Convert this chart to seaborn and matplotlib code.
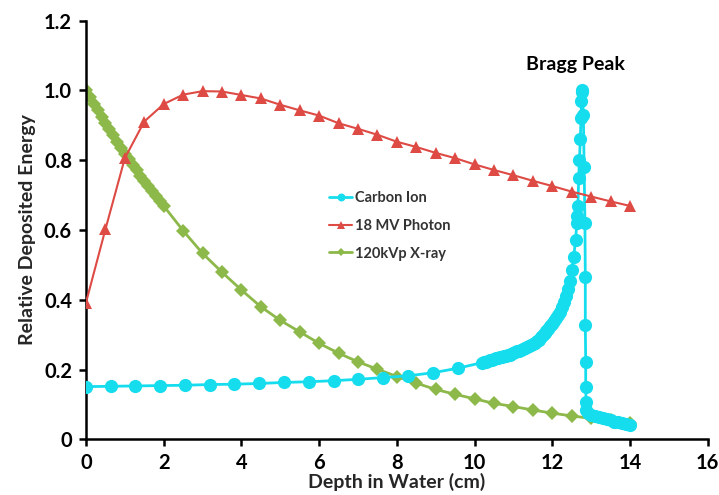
import numpy as np
import pandas as pd
import matplotlib
matplotlib.use("Agg")
import matplotlib.pyplot as plt
import seaborn as sns

# ---------------- data ----------------
photon_x = [0, 0.5, 1.0, 1.5, 2.0, 2.5, 3.0, 3.5, 4.0, 4.5, 5.0, 5.5, 6.0, 6.5, 7.0,
            7.5, 8.0, 8.5, 9.0, 9.5, 10.0, 10.5, 11.0, 11.5, 12.0, 12.5, 13.0, 13.5, 14.0]
photon_y = [0.392, 0.602, 0.806, 0.911, 0.961, 0.988, 0.998, 0.997, 0.987, 0.977, 0.959,
            0.943, 0.928, 0.906, 0.890, 0.873, 0.853, 0.838, 0.821, 0.806, 0.788, 0.772,
            0.757, 0.741, 0.726, 0.710, 0.696, 0.682, 0.669]

xray_x = [0.0, 0.1, 0.2, 0.3, 0.4, 0.5, 0.6, 0.7, 0.8, 0.9, 1.0, 1.1, 1.2, 1.3, 1.4,
          1.5, 1.6, 1.7, 1.8, 1.9, 2.0, 2.5, 3.0, 3.5, 4.0, 4.5, 5.0, 5.5, 6.0, 6.5,
          7.0, 7.5, 8.0, 8.5, 9.0, 9.5, 10.0, 10.5, 11.0, 11.5, 12.0, 12.5, 13.0,
          13.5, 14.0]
xray_y = [1.000, 0.981, 0.962, 0.943, 0.925, 0.907, 0.889, 0.871, 0.853, 0.836, 0.819,
          0.803, 0.787, 0.771, 0.756, 0.741, 0.726, 0.711, 0.697, 0.683, 0.669, 0.598,
          0.533, 0.479, 0.428, 0.380, 0.341, 0.308, 0.275, 0.247, 0.222, 0.201, 0.180,
          0.161, 0.143, 0.129, 0.116, 0.103, 0.094, 0.084, 0.075, 0.067, 0.060, 0.054,
          0.048]

carbon_x = [0.0, 0.64, 1.27, 1.91, 2.55, 3.18, 3.82, 4.46, 5.09, 5.73, 6.37, 7.0,
            7.65, 8.29, 8.94, 9.58,
            10.20, 10.25, 10.30, 10.35, 10.40, 10.45, 10.50, 10.55, 10.60, 10.65,
            10.70, 10.75, 10.80, 10.85, 10.90, 10.95, 11.00, 11.05, 11.10, 11.15,
            11.20, 11.25, 11.30, 11.35, 11.40, 11.45, 11.50, 11.55, 11.60, 11.65,
            11.70, 11.75, 11.80, 11.85, 11.90, 11.95, 12.00, 12.05, 12.10, 12.15,
            12.20, 12.25, 12.30, 12.35, 12.40, 12.45, 12.50, 12.55,
            12.60, 12.63, 12.64, 12.66, 12.68, 12.70, 12.72, 12.74, 12.75, 12.76, 12.77,
            12.80, 12.82, 12.84, 12.85, 12.85, 12.86, 12.86, 12.87, 12.88,
            12.92, 13.0, 13.1, 13.2, 13.3, 13.4, 13.5, 13.6, 13.7, 13.8, 13.9, 14.0]
carbon_y = [0.151, 0.152, 0.153, 0.154, 0.155, 0.157, 0.158, 0.160, 0.163, 0.165, 0.168,
            0.172, 0.177, 0.182, 0.191, 0.204,
            0.220, 0.222, 0.223, 0.225, 0.227, 0.228, 0.230, 0.232, 0.233, 0.235,
            0.237, 0.238, 0.240, 0.242, 0.243, 0.245, 0.247, 0.249, 0.252, 0.254,
            0.257, 0.259, 0.262, 0.264, 0.267, 0.269, 0.272, 0.276, 0.281, 0.286,
            0.292, 0.298, 0.304, 0.310, 0.317, 0.324, 0.331, 0.339, 0.347, 0.356,
            0.366, 0.380, 0.395, 0.412, 0.432, 0.455, 0.485, 0.524,
            0.570, 0.620, 0.640, 0.670, 0.750, 0.800, 0.860, 0.920, 0.970, 0.995, 1.000,
            0.930, 0.780, 0.620, 0.464, 0.328, 0.223, 0.151, 0.108, 0.084,
            0.075, 0.070, 0.066, 0.063, 0.060, 0.057, 0.054, 0.051, 0.049, 0.046,
            0.044, 0.041]

series_names = ["Carbon Ion", "18 MV Photon", "120kVp X-ray"]
x_ticks = [0, 2, 4, 6, 8, 10, 12, 14, 16]
y_ticks = [0, 0.2, 0.4, 0.6, 0.8, 1.0, 1.2]
y_tick_labels = ["0", "0.2", "0.4", "0.6", "0.8", "1.0", "1.2"]

# ---------------- style ----------------
sns.set_style("white")
plt.rcParams["font.family"] = ["Lato", "DejaVu Sans"]
plt.rcParams["font.weight"] = "bold"

CYAN = "#16DDEE"
RED = "#DE4A44"
GREEN = "#8DB84A"

fig = plt.figure(figsize=(7.19, 4.95), dpi=100)
ax = fig.add_axes([0.1196, 0.1125, 0.8647, 0.8457])

df_c = pd.DataFrame({"x": carbon_x, "y": carbon_y})
df_p = pd.DataFrame({"x": photon_x, "y": photon_y})
df_g = pd.DataFrame({"x": xray_x, "y": xray_y})

sns.lineplot(data=df_c, x="x", y="y", ax=ax, sort=False, estimator=None,
             color=CYAN, lw=2.0, marker="o", markersize=9.5, markeredgewidth=0,
             label=series_names[0], zorder=3)
sns.lineplot(data=df_p, x="x", y="y", ax=ax, sort=False, estimator=None,
             color=RED, lw=1.5, marker="^", markersize=8.5, markeredgewidth=0,
             label=series_names[1], zorder=4)
sns.lineplot(data=df_g, x="x", y="y", ax=ax, sort=False, estimator=None,
             color=GREEN, lw=2.0, marker="D", markersize=7, markeredgewidth=0,
             label=series_names[2], zorder=2)

ax.set_xlim(0, 16)
ax.set_ylim(0, 1.2)
ax.set_xticks(x_ticks)
ax.set_xticklabels([str(t) for t in x_ticks])
ax.set_yticks(y_ticks)
ax.set_yticklabels(y_tick_labels)

for s in ["top", "right"]:
    ax.spines[s].set_visible(False)
for s in ["left", "bottom"]:
    ax.spines[s].set_color("black")
    ax.spines[s].set_linewidth(1.8)

ax.tick_params(axis="both", direction="out", length=5, width=1.8, colors="black",
               labelsize=14.5, pad=5, bottom=True, left=True)
for lab in ax.get_xticklabels() + ax.get_yticklabels():
    lab.set_fontweight("bold")

ax.set_xlabel("Depth in Water (cm)", fontsize=14, fontweight="bold", labelpad=0)
ax.set_ylabel("Relative Deposited Energy", fontsize=14, fontweight="bold", labelpad=6)

ax.text(12.59, 1.073, "Bragg Peak", ha="center", va="center", fontsize=14,
        fontweight="bold", color="black")

leg = ax.legend(loc="upper left", bbox_to_anchor=(0.37, 0.625), frameon=False,
                fontsize=10.5, handlelength=1.6, handletextpad=0.15, labelspacing=0.95,
                markerscale=0.6)
for t in leg.get_texts():
    t.set_fontweight("bold")
    t.set_color("#333333")

ax.grid(False)
fig.savefig("out.png", dpi=100, facecolor="white")
